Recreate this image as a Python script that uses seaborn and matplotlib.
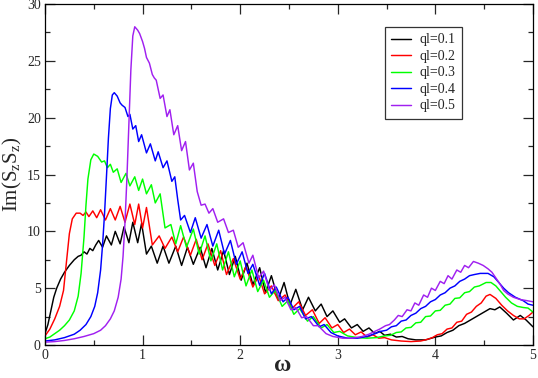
import pandas as pd
import seaborn as sns
import matplotlib
matplotlib.use("Agg")
import matplotlib.pyplot as plt
from matplotlib.ticker import MultipleLocator

# values (omega, Im(SzSz)), peaks and troughs of the ripples
ql_labels = ["ql=0.1", "ql=0.2", "ql=0.3", "ql=0.4", "ql=0.5"]
colors = ["#000000", "#ff0000", "#00ff00", "#0000ff", "#a020f0"]

ql01 = [(0, 1.0), (0.03, 1.8), (0.06, 3.0), (0.09, 4.2), (0.12, 5.0), (0.16, 5.8), (0.2, 6.4),
        (0.25, 7.0), (0.3, 7.5), (0.34, 7.8), (0.37, 7.9), (0.4, 8.2), (0.43, 8.0), (0.46, 8.5),
        (0.49, 8.3), (0.52, 8.8), (0.55, 9.2), (0.59, 8.6), (0.63, 9.6), (0.68, 8.8), (0.72, 10.0),
        (0.77, 8.9), (0.81, 10.4), (0.86, 9.0), (0.9, 10.8), (0.95, 9.0), (0.99, 10.7), (1.04, 8.0),
        (1.09, 8.7), (1.15, 7.2), (1.21, 8.7), (1.27, 7.2), (1.34, 8.7), (1.40, 7.0), (1.46, 8.6),
        (1.52, 7.1), (1.59, 8.6), (1.65, 6.8), (1.71, 8.5), (1.77, 6.6), (1.83, 8.3), (1.89, 6.2),
        (1.95, 7.8), (2.01, 5.7), (2.07, 7.2), (2.13, 5.3), (2.20, 6.8), (2.26, 4.6), (2.32, 6.1),
        (2.39, 4.0), (2.45, 5.5), (2.51, 3.5), (2.57, 4.9), (2.64, 3.1), (2.70, 4.2), (2.77, 3.0),
        (2.83, 3.6), (2.89, 2.5), (2.95, 3.0), (3.02, 2.0), (3.07, 2.3), (3.14, 1.5), (3.20, 1.8),
        (3.26, 1.2), (3.32, 1.5), (3.38, 1.0), (3.43, 1.2), (3.48, 0.85), (3.54, 0.95), (3.6, 0.7),
        (3.66, 0.75), (3.72, 0.55), (3.8, 0.45), (3.9, 0.45), (4.0, 0.7), (4.06, 0.8), (4.12, 1.1),
        (4.18, 1.3), (4.24, 1.7), (4.3, 1.9), (4.36, 2.2), (4.42, 2.5), (4.48, 2.8), (4.56, 3.2),
        (4.61, 3.1), (4.66, 3.35), (4.73, 2.8), (4.8, 2.2), (4.87, 2.6), (4.93, 2.2), (5.0, 1.6)]

ql02 = [(0, 0.8), (0.05, 1.4), (0.1, 2.3), (0.15, 3.4), (0.19, 4.8), (0.22, 7.3), (0.25, 9.8),
        (0.28, 11.1), (0.32, 11.6), (0.36, 11.6), (0.39, 11.4), (0.42, 11.7), (0.45, 11.3),
        (0.49, 11.8), (0.53, 11.2), (0.57, 11.9), (0.62, 11.0), (0.67, 12.0), (0.72, 11.0),
        (0.77, 12.2), (0.82, 10.8), (0.87, 12.4), (0.92, 10.6), (0.96, 12.4), (1.0, 10.3),
        (1.04, 12.1), (1.10, 8.8), (1.17, 9.6), (1.23, 8.5), (1.30, 9.5), (1.36, 8.2), (1.42, 9.5),
        (1.49, 7.9), (1.55, 9.3), (1.61, 7.5), (1.67, 8.9), (1.74, 7.0), (1.80, 8.3), (1.86, 6.2),
        (1.93, 7.6), (2.0, 5.8), (2.06, 6.9), (2.13, 5.1), (2.19, 6.1), (2.25, 4.5), (2.32, 5.2),
        (2.39, 3.9), (2.46, 4.4), (2.53, 3.2), (2.60, 3.8), (2.67, 2.6), (2.74, 3.1), (2.81, 1.9),
        (2.87, 2.4), (2.94, 1.5), (3.0, 1.8), (3.06, 1.1), (3.12, 1.4), (3.18, 0.9), (3.24, 1.15),
        (3.30, 0.7), (3.36, 0.9), (3.42, 0.6), (3.48, 0.65), (3.55, 0.45), (3.65, 0.35),
        (3.75, 0.3), (3.85, 0.35), (3.92, 0.5), (3.97, 0.65), (4.02, 0.9), (4.07, 1.0), (4.12, 1.4),
        (4.17, 1.5), (4.22, 2.0), (4.27, 2.1), (4.32, 2.7), (4.37, 2.9), (4.42, 3.4), (4.47, 3.7),
        (4.52, 4.3), (4.56, 4.45), (4.62, 4.1), (4.68, 3.5), (4.74, 3.0), (4.8, 2.6), (4.86, 2.3),
        (4.91, 2.3), (4.96, 2.6), (5.0, 2.9)]

ql03 = [(0, 0.55), (0.05, 0.7), (0.1, 1.0), (0.15, 1.3), (0.2, 1.7), (0.25, 2.2), (0.3, 3.0),
        (0.34, 4.3), (0.37, 6.3), (0.4, 9.5), (0.42, 12.3), (0.44, 14.6), (0.47, 16.3), (0.5, 16.8),
        (0.54, 16.6), (0.58, 16.1), (0.61, 16.2), (0.64, 15.6), (0.67, 15.9), (0.7, 15.2),
        (0.74, 15.5), (0.78, 14.3), (0.83, 15.1), (0.87, 14.0), (0.92, 14.8), (0.96, 13.6),
        (1.0, 14.6), (1.04, 13.3), (1.09, 14.1), (1.13, 12.5), (1.18, 13.3), (1.23, 10.3),
        (1.29, 10.6), (1.34, 8.9), (1.39, 10.5), (1.45, 8.6), (1.52, 10.2), (1.58, 8.0), (1.64, 9.6),
        (1.70, 7.4), (1.76, 8.9), (1.82, 6.6), (1.88, 8.2), (1.94, 6.0), (2.0, 7.4), (2.06, 5.2),
        (2.12, 6.6), (2.18, 4.7), (2.24, 5.7), (2.30, 4.2), (2.36, 4.8), (2.43, 3.4), (2.49, 3.9),
        (2.55, 2.7), (2.61, 3.2), (2.69, 2.1), (2.75, 2.5), (2.83, 1.5), (2.89, 1.8), (2.96, 1.1),
        (3.02, 1.2), (3.1, 0.8), (3.2, 0.65), (3.3, 0.6), (3.4, 0.65), (3.48, 0.8), (3.54, 0.85),
        (3.6, 1.1), (3.65, 1.15), (3.7, 1.5), (3.75, 1.55), (3.8, 1.95), (3.85, 2.0), (3.9, 2.5),
        (3.95, 2.55), (4.0, 3.0), (4.05, 3.05), (4.1, 3.5), (4.15, 3.6), (4.2, 4.1), (4.25, 4.15),
        (4.3, 4.6), (4.35, 4.7), (4.4, 5.1), (4.45, 5.2), (4.52, 5.5), (4.57, 5.5), (4.62, 5.2),
        (4.67, 4.7), (4.72, 4.2), (4.78, 3.7), (4.84, 3.4), (4.9, 3.3), (4.95, 3.25), (5.0, 2.9)]

ql04 = [(0, 0.35), (0.1, 0.45), (0.2, 0.65), (0.3, 0.95), (0.36, 1.3), (0.42, 1.8), (0.47, 2.5),
        (0.51, 3.4), (0.54, 4.6), (0.57, 6.6), (0.59, 8.8), (0.61, 11.5), (0.63, 14.8), (0.65, 18.2),
        (0.67, 20.8), (0.69, 22.0), (0.71, 22.2), (0.74, 21.9), (0.77, 21.3), (0.79, 21.1),
        (0.82, 20.9), (0.85, 20.1), (0.87, 20.3), (0.9, 19.0), (0.93, 19.3), (0.96, 17.9),
        (0.99, 18.5), (1.04, 16.9), (1.08, 17.7), (1.13, 16.2), (1.16, 17.0), (1.21, 15.6),
        (1.25, 16.2), (1.30, 14.4), (1.33, 14.8), (1.36, 12.8), (1.39, 11.0), (1.43, 11.4),
        (1.49, 9.9), (1.54, 11.2), (1.60, 9.4), (1.66, 10.6), (1.72, 8.7), (1.78, 10.1), (1.84, 8.0),
        (1.90, 9.2), (1.96, 7.1), (2.02, 8.2), (2.08, 6.3), (2.13, 7.1), (2.20, 5.25), (2.25, 6.3),
        (2.32, 4.5), (2.37, 5.1), (2.44, 3.8), (2.49, 4.2), (2.55, 3.1), (2.61, 3.4), (2.67, 2.3),
        (2.73, 2.5), (2.81, 1.6), (2.86, 1.8), (2.93, 1.1), (3.0, 0.8), (3.1, 0.6), (3.2, 0.6),
        (3.3, 0.75), (3.38, 1.0), (3.44, 1.2), (3.5, 1.3), (3.55, 1.6), (3.6, 1.7), (3.65, 2.1),
        (3.7, 2.2), (3.75, 2.6), (3.8, 2.8), (3.85, 3.2), (3.9, 3.4), (3.95, 3.8), (4.0, 4.0),
        (4.05, 4.4), (4.1, 4.6), (4.15, 5.0), (4.2, 5.2), (4.25, 5.6), (4.3, 5.8), (4.35, 6.1),
        (4.4, 6.2), (4.46, 6.3), (4.54, 6.3), (4.6, 6.0), (4.65, 5.5), (4.7, 5.0), (4.75, 4.6),
        (4.82, 4.2), (4.9, 3.9), (4.95, 3.6), (5.0, 3.5)]

ql05 = [(0, 0.25), (0.1, 0.3), (0.2, 0.4), (0.3, 0.55), (0.4, 0.75), (0.5, 1.0), (0.57, 1.3),
        (0.62, 1.7), (0.67, 2.3), (0.71, 3.0), (0.75, 4.2), (0.78, 5.8), (0.8, 7.8), (0.82, 10.8),
        (0.84, 14.8), (0.86, 19.5), (0.88, 24.2), (0.9, 27.2), (0.92, 28.0), (0.95, 27.7),
        (0.97, 27.4), (1.0, 26.7), (1.02, 26.1), (1.04, 25.3), (1.07, 24.8), (1.10, 23.8),
        (1.12, 23.5), (1.14, 23.3), (1.18, 21.7), (1.21, 22.0), (1.25, 20.1), (1.28, 20.7),
        (1.32, 18.5), (1.36, 19.3), (1.40, 17.1), (1.44, 17.9), (1.48, 15.4), (1.52, 16.0),
        (1.56, 13.5), (1.60, 12.3), (1.64, 12.4), (1.68, 11.6), (1.72, 12.0), (1.77, 10.8),
        (1.83, 11.1), (1.88, 9.9), (1.93, 10.1), (1.98, 8.6), (2.03, 9.0), (2.09, 7.2), (2.13, 7.9),
        (2.19, 5.9), (2.24, 6.5), (2.30, 4.8), (2.35, 5.3), (2.41, 3.9), (2.46, 4.2), (2.52, 3.1),
        (2.57, 3.3), (2.63, 2.4), (2.68, 2.5), (2.75, 1.7), (2.8, 1.7), (2.88, 1.0), (2.95, 0.75),
        (3.05, 0.6), (3.15, 0.6), (3.25, 0.75), (3.32, 0.95), (3.38, 1.2), (3.43, 1.4), (3.49, 1.7),
        (3.53, 1.8), (3.58, 2.2), (3.62, 2.6), (3.66, 2.5), (3.71, 3.1), (3.75, 3.0), (3.79, 3.7),
        (3.83, 3.5), (3.88, 4.4), (3.92, 4.2), (3.96, 5.0), (4.0, 4.8), (4.05, 5.6), (4.09, 5.4),
        (4.13, 6.1), (4.17, 5.8), (4.22, 6.6), (4.26, 6.4), (4.30, 7.0), (4.34, 6.8), (4.39, 7.35),
        (4.44, 7.2), (4.49, 7.0), (4.54, 6.7), (4.58, 6.4), (4.62, 5.9), (4.66, 5.4), (4.7, 4.8),
        (4.74, 4.5), (4.8, 4.2), (4.87, 4.0), (4.94, 3.9), (5.0, 3.8)]

series = [ql01, ql02, ql03, ql04, ql05]

rows = []
for lab, pts in zip(ql_labels, series):
    for w, s in pts:
        rows.append({"w": w, "S": s, "ql": lab})
df = pd.DataFrame(rows)

sns.set_style("ticks")
plt.rcParams["font.family"] = ["Liberation Serif", "DejaVu Serif"]
plt.rcParams["mathtext.fontset"] = "custom"
plt.rcParams["mathtext.rm"] = "Liberation Serif"
plt.rcParams["mathtext.it"] = "Liberation Serif:italic"

fig = plt.figure(figsize=(5.38, 3.78), dpi=100)
ax = fig.add_axes([0.0836, 0.0873, 0.907, 0.902])

sns.lineplot(data=df, x="w", y="S", hue="ql", hue_order=ql_labels, palette=colors,
             estimator=None, sort=False, legend=False, linewidth=1.05, ax=ax)

ax.set_xlim(0, 5)
ax.set_ylim(0, 30)
ax.xaxis.set_major_locator(MultipleLocator(1))
ax.xaxis.set_minor_locator(MultipleLocator(0.5))
ax.yaxis.set_major_locator(MultipleLocator(5))
ax.yaxis.set_minor_locator(MultipleLocator(2.5))
ax.tick_params(which="both", direction="in", top=True, right=True, labelsize=10, width=0.9)
ax.tick_params(which="major", length=7, pad=3)
ax.tick_params(which="minor", length=3.5)
for sp in ax.spines.values():
    sp.set_linewidth(0.9)
    sp.set_color("black")

ax.set_xlabel("ω", fontsize=17, fontweight="bold")
ax.xaxis.set_label_coords(0.488, -0.028)
ax.set_ylabel(r"Im(S$_\mathrm{z}$S$_\mathrm{z}$)", fontsize=15, labelpad=2)

leg = ax.legend(ax.lines[:5], ql_labels, loc="upper right", bbox_to_anchor=(0.855, 0.932),
                borderaxespad=0, fontsize=10, frameon=True, fancybox=False,
                handlelength=1.45, labelspacing=0.25, borderpad=0.45, handletextpad=0.65)
leg.get_frame().set_edgecolor("black")
leg.get_frame().set_linewidth(0.9)

fig.savefig("out.png", dpi=100)
